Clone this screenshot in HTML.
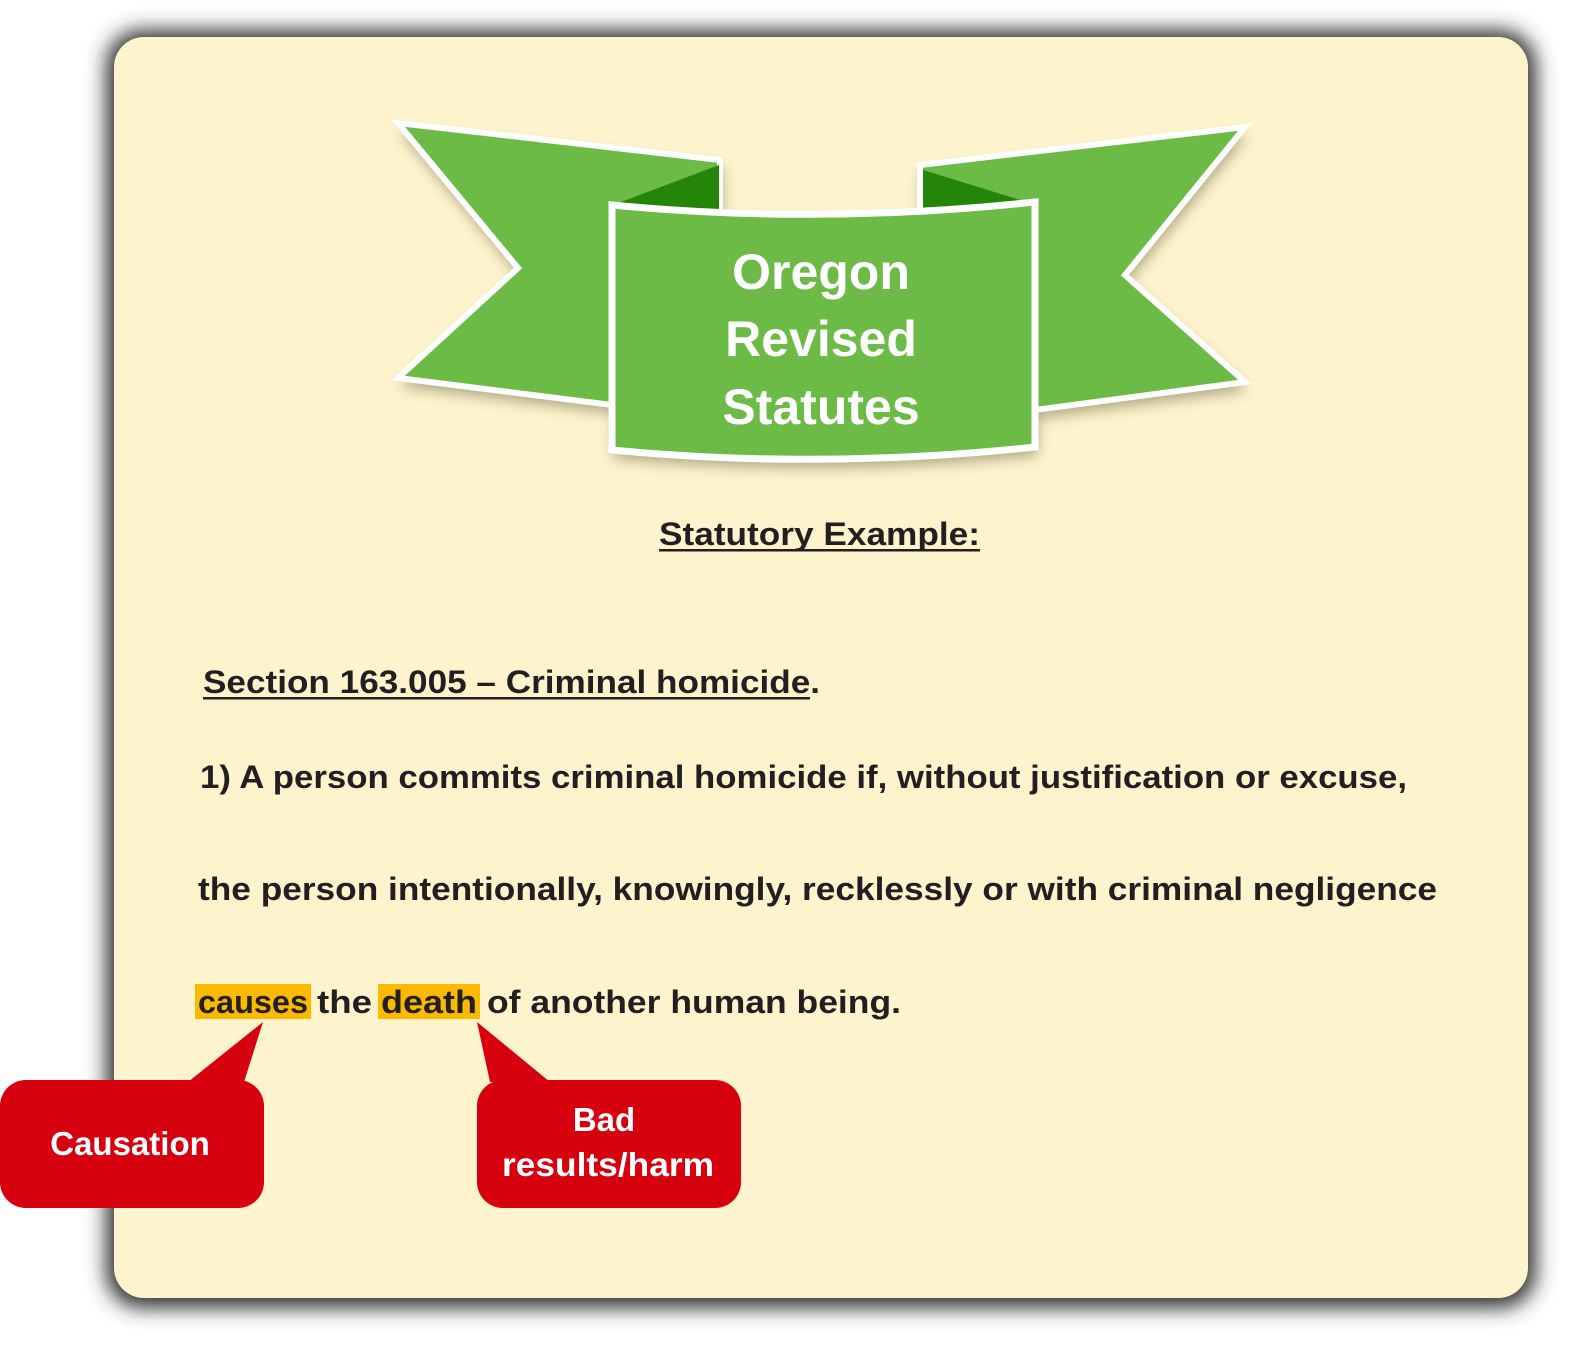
<!DOCTYPE html>
<html><head><meta charset="utf-8"><style>
html,body{margin:0;padding:0;background:#fff;}
svg{display:block}
text{font-family:"Liberation Sans",sans-serif;font-weight:bold;}
</style></head><body>
<svg width="1578" height="1346" viewBox="0 0 1578 1346">
<defs>
<filter id="sh" x="-10%" y="-10%" width="120%" height="120%"><feGaussianBlur stdDeviation="10"/></filter>
<filter id="bsh" x="-10%" y="-10%" width="120%" height="130%"><feGaussianBlur stdDeviation="7"/></filter>
</defs>
<rect x="106" y="30" width="1430" height="1278" rx="36" fill="#333" filter="url(#sh)"/>
<rect x="114" y="37" width="1414" height="1261" rx="30" fill="#fdf3cd"/>

<g>
<g filter="url(#bsh)" fill="#8a8560" opacity="0.7" transform="translate(2,8)">
<polygon points="398,123 720,160 720,300 612,405 398,378 518,268"/>
<polygon points="1245,127 920,165 920,300 1035,410 1245,382 1125,275"/>
<path d="M612,205 Q820,225 1035,202 L1035,447 Q820,470 612,450 Z"/>
</g>
<polygon points="398,123 720,160 720,300 612,405 398,378 518,268" fill="#6dbb47" stroke="#fff" stroke-width="6" stroke-linejoin="miter"/>
<polygon points="1245,127 920,165 920,300 1035,410 1245,382 1125,275" fill="#6dbb47" stroke="#fff" stroke-width="6"/>
<polygon points="613,205 719,165 719,212" fill="#248508"/>
<polygon points="923,170 1033,204 923,212" fill="#248508"/>
<path d="M612,205 Q820,225 1035,202 L1035,447 Q820,470 612,450 Z" fill="#6dbb47" stroke="#fff" stroke-width="7"/>
<text x="821" y="289" font-size="50" fill="#fff" text-anchor="middle">Oregon</text>
<text x="821" y="356" font-size="50" fill="#fff" text-anchor="middle">Revised</text>
<text x="821" y="424" font-size="50" fill="#fff" text-anchor="middle">Statutes</text>
</g>

<text x="659" y="545" font-size="32" fill="#231f20" textLength="321" lengthAdjust="spacingAndGlyphs">Statutory Example:</text>
<rect x="659" y="549" width="321" height="2.5" fill="#231f20"/>

<text x="203" y="693" font-size="32" fill="#231f20" textLength="617" lengthAdjust="spacingAndGlyphs">Section 163.005 – Criminal homicide.</text>
<rect x="203" y="697" width="607" height="2.5" fill="#231f20"/>

<text x="200" y="788" font-size="32" fill="#231f20" textLength="1207" lengthAdjust="spacingAndGlyphs">1) A person commits criminal homicide if, without justification or excuse,</text>
<text x="198" y="900" font-size="32" fill="#231f20" textLength="1239" lengthAdjust="spacingAndGlyphs">the person intentionally, knowingly, recklessly or with criminal negligence</text>

<rect x="195" y="984" width="116" height="35" fill="#fbb900"/>
<rect x="378" y="984" width="102" height="35" fill="#fbb900"/>
<text x="198" y="1013" font-size="32" fill="#231f20" textLength="110" lengthAdjust="spacingAndGlyphs">causes</text>
<text x="317" y="1013" font-size="32" fill="#231f20" textLength="55" lengthAdjust="spacingAndGlyphs">the</text>
<text x="381" y="1013" font-size="32" fill="#231f20" textLength="96" lengthAdjust="spacingAndGlyphs">death</text>
<text x="487" y="1013" font-size="32" fill="#231f20" textLength="414" lengthAdjust="spacingAndGlyphs">of another human being.</text>

<g>
<polygon points="188,1082 244,1082 263,1022" fill="#d7000f"/>
<rect x="0" y="1080" width="264" height="128" rx="26" fill="#d7000f"/>
<text x="130" y="1155" font-size="33" fill="#fff" text-anchor="middle">Causation</text>
</g>
<g>
<polygon points="477,1022 490,1082 550,1082" fill="#d7000f"/>
<rect x="477" y="1080" width="264" height="128" rx="26" fill="#d7000f"/>
<text x="604" y="1131" font-size="33" fill="#fff" text-anchor="middle">Bad</text>
<text x="608" y="1176" font-size="33" fill="#fff" text-anchor="middle" textLength="212" lengthAdjust="spacingAndGlyphs">results/harm</text>
</g>
</svg>
</body></html>
